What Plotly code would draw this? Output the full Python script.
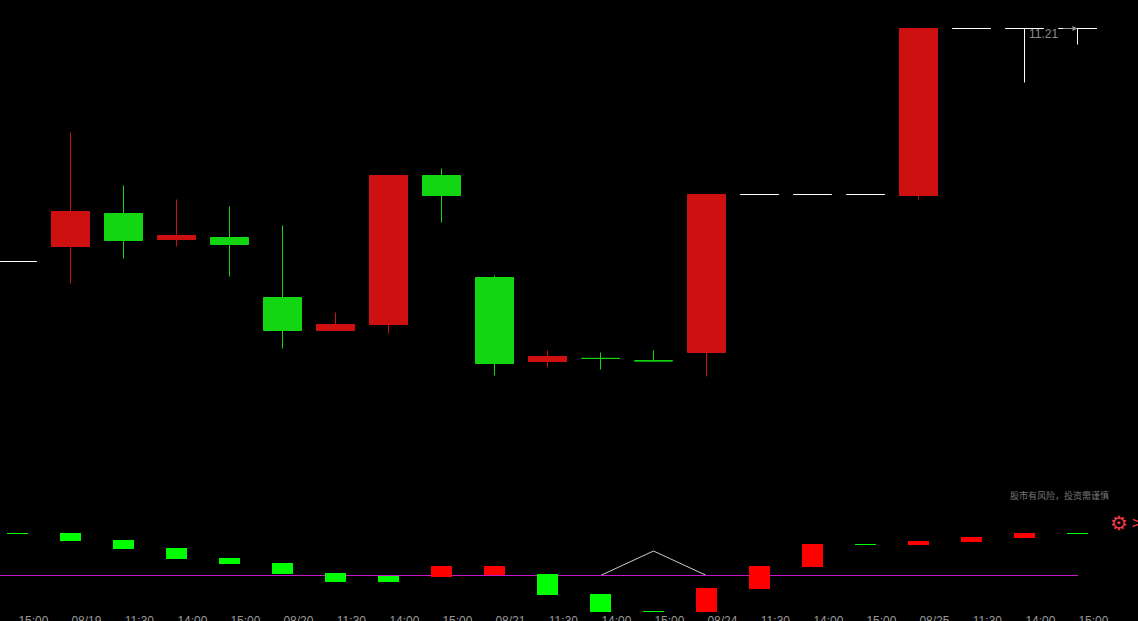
import plotly.graph_objects as go

W, H = 1138, 621

# Candles (index, open, high, low, close)
idx   = list(range(21))
opens = [10.045,10.12,10.285,10.155,10.165,9.865,9.70,9.73,10.475,9.965,9.545,9.561,9.549,9.59,10.38,10.38,10.38,10.375,11.21,11.21,11.21]
highs = [10.045,10.69,10.425,10.355,10.32,10.225,9.79,10.475,10.51,9.975,9.6,9.59,9.6,10.38,10.38,10.38,10.38,11.21,11.21,11.21,11.21]
lows  = [10.045,9.935,10.06,10.12,9.97,9.61,9.70,9.685,10.24,9.475,9.515,9.505,9.545,9.47,10.38,10.38,10.38,10.355,11.21,10.94,11.13]
closes= [10.045,10.295,10.15,10.175,10.13,9.70,9.73,10.475,10.375,9.535,9.57,9.56,9.548,10.38,10.38,10.38,10.38,11.21,11.21,11.21,11.21]

tick_labels = ["15:00","08/19","11:30","14:00","15:00","08/20","11:30","14:00","15:00","08/21","11:30",
               "14:00","15:00","08/24","11:30","14:00","15:00","08/25","11:30","14:00","15:00"]

# Lower indicator: floating histogram
hist_top    = [0.042,0.042,0.035,0.027,0.017,0.012,0.002,-0.001,0.009,0.009,0.001,-0.019,-0.036,-0.013,0.009,0.031,0.031,0.034,0.038,0.042,0.042]
hist_bottom = [0.041,0.034,0.026,0.016,0.011,0.001,-0.007,-0.007,-0.002,0.0,-0.020,-0.037,-0.037,-0.037,-0.014,0.008,0.030,0.030,0.033,0.037,0.041]
hist_up     = [False]*8 + [True,True,False,False,False,True,True,True,False,True,True,True,False]

line_x  = [-1] + idx
dif     = [-0.0005]*13 + [0.024] + [-0.0005]*8
dea     = [-0.0005]*22

RED, GREEN, WHITE = "#cf1010", "#12d612", "#ffffff"

flat = [o == c for o, c in zip(opens, closes)]
def pick(seq, keep):
    return [v for v, k in zip(seq, keep) if k]
solid = [not f for f in flat]

fig = go.Figure()
fig.add_trace(go.Scatter(x=line_x, y=dif, mode="lines", line=dict(color="#cccccc", width=1), yaxis="y2", hoverinfo="skip"))
fig.add_trace(go.Scatter(x=line_x, y=dea, mode="lines", line=dict(color="#c916c9", width=1), yaxis="y2", hoverinfo="skip"))
fig.add_trace(go.Bar(x=idx, y=[t - b for t, b in zip(hist_top, hist_bottom)], base=hist_bottom, width=21/53,
                     marker=dict(color=["#ff0000" if u else "#00ff00" for u in hist_up], line=dict(width=0)),
                     yaxis="y2", zorder=2))
fig.add_trace(go.Candlestick(x=pick(idx, solid), open=pick(opens, solid), high=pick(highs, solid),
                             low=pick(lows, solid), close=pick(closes, solid), yaxis="y", whiskerwidth=0,
                             increasing=dict(line=dict(color=RED, width=1), fillcolor=RED),
                             decreasing=dict(line=dict(color=GREEN, width=1), fillcolor=GREEN)))
fig.add_trace(go.Candlestick(x=pick(idx, flat), open=pick(opens, flat), high=pick(highs, flat),
                             low=pick(lows, flat), close=pick(closes, flat), yaxis="y", whiskerwidth=0,
                             increasing=dict(line=dict(color=WHITE, width=1), fillcolor=WHITE),
                             decreasing=dict(line=dict(color=WHITE, width=1), fillcolor=WHITE)))

fig.update_layout(
    width=W, height=H, autosize=False, showlegend=False,
    margin=dict(l=0, r=0, t=0, b=0, autoexpand=False),
    paper_bgcolor="#000000", plot_bgcolor="#000000",
    boxgap=1 - 38/53, boxgroupgap=0, boxmode="overlay", barmode="overlay",
    xaxis=dict(range=[-17.5/53, (W - 17.5)/53], anchor="y2", showgrid=False, zeroline=False, showline=False, automargin=False,
               rangeslider=dict(visible=False), tickmode="array", tickvals=[i + 0.3 for i in idx],
               ticktext=tick_labels, ticks="", tickangle=0, tickfont=dict(family="Liberation Sans", size=12, color="#999999")),
    yaxis=dict(domain=[140.5/H, 620.5/H], range=[8.95, 11.35], visible=False, showgrid=False, zeroline=False, automargin=False),
    yaxis2=dict(domain=[9/H, 96/H], range=[-0.037, 0.05], visible=False, showgrid=False, zeroline=False, automargin=False),
    annotations=[
        dict(xref="x", yref="y", x=20, y=11.21, ax=-16, ay=0, axref="pixel", ayref="pixel", text="", showarrow=True,
             arrowhead=2, arrowsize=1, arrowwidth=1, arrowcolor="#999999", standoff=0),
        dict(xref="x", yref="y", x=19.35, y=11.185, text="11.21", showarrow=False, xanchor="center", yanchor="middle",
             font=dict(family="Liberation Sans", size=12, color="#8a8a8a")),
        dict(xref="paper", yref="paper", x=1111/W, y=1 - 495/H, xanchor="right", yanchor="middle", text="股市有风险，投资需谨慎", showarrow=False,
             font=dict(family="Noto Sans CJK SC", size=9, color="#777777")),
        dict(xref="paper", yref="paper", x=1119/W, y=1 - 523/H, xanchor="center", yanchor="middle", text="<b>⚙</b>", showarrow=False,
             font=dict(family="DejaVu Sans", size=20, color="#f23a47")),
        dict(xref="paper", yref="paper", x=1137/W, y=1 - 523/H, xanchor="center", yanchor="middle", text=">", showarrow=False,
             font=dict(family="DejaVu Sans", size=15, color="#f23a47")),
    ],
)

fig.write_html("out.html", config={"displayModeBar": False},
               post_script="document.body.style.margin='0';document.body.style.background='#000';document.body.style.overflow='hidden';")
